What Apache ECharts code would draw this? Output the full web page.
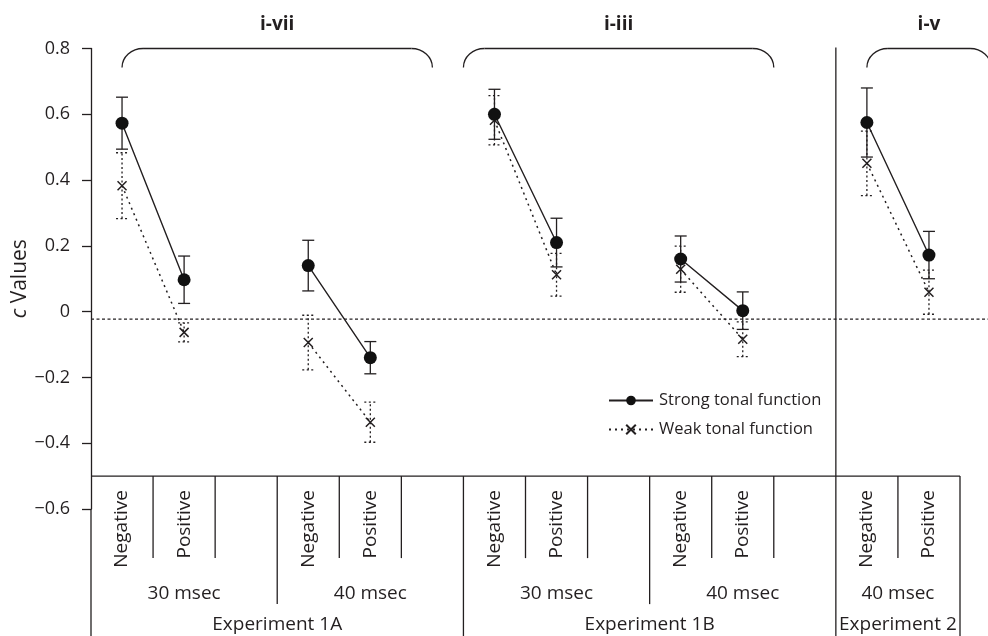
<!DOCTYPE html>
<html><head><meta charset="utf-8">
<script src="https://cdn.jsdelivr.net/npm/echarts@6/dist/echarts.min.js"></script>
<style>html,body{margin:0;padding:0;background:#fff}#c{width:988px;height:636px}</style>
</head><body><div id="c"></div>
<script>
// ---- data ----
const categories = ['Negative','Positive','','Negative','Positive','','Negative','Positive','','Negative','Positive','','Negative','Positive'];
const strongMean = [0.573, 0.097, null, 0.140, -0.140, null, 0.600, 0.210, null, 0.160, 0.003, null, 0.575, 0.172];
const strongErr  = [0.079, 0.072, null, 0.077,  0.049, null, 0.076, 0.074, null, 0.070, 0.057, null, 0.105, 0.072];
const weakMean   = [0.383, -0.063, null, -0.094, -0.336, null, 0.582, 0.112, null, 0.129, -0.084, null, 0.451, 0.059];
const weakErr    = [0.100, 0.029, null, 0.083, 0.061, null, 0.075, 0.065, null, 0.070, 0.053, null, 0.098, 0.067];
const seriesNames = ['Strong tonal function', 'Weak tonal function'];
const yMin = -0.6, yMax = 0.8, yInterval = 0.2;
const criterionValue = -0.023;
const baselineValue = -0.5;
const timeGroups = [
  {label:'30 msec', from:0, to:2}, {label:'40 msec', from:3, to:5},
  {label:'30 msec', from:6, to:8}, {label:'40 msec', from:9, to:11},
  {label:'40 msec', from:12, to:13}
];
const experimentGroups = [
  {label:'Experiment 1A', from:0, to:5},
  {label:'Experiment 1B', from:6, to:11},
  {label:'Experiment 2', from:12, to:13, dividerToTop:true}
];
const braces = [
  {label:'i-vii', from:0, to:5},
  {label:'i-iii', from:5.5, to:10.5},
  {label:'i-v', from:12, to:14}
];

// ---- chart ----
const INK = '#231f20';
const FONT = 'Open Sans';
const chart = echarts.init(document.getElementById('c'), null, {renderer:'canvas'});

function errBars(mean, err, dash, z) {
  const data = [];
  mean.forEach((m, i) => { if (m != null) data.push([i, m - err[i], m + err[i]]); });
  return {
    type:'custom', silent:true, z:z, data:data, encode:{x:0, y:[1,2]},
    renderItem:function(params, api){
      const x = api.value(0);
      const lo = api.coord([x, api.value(1)]);
      const hi = api.coord([x, api.value(2)]);
      const hw = 6;
      const st = {stroke:INK, lineWidth:1.3, lineDash:dash};
      return {type:'group', children:[
        {type:'line', shape:{x1:lo[0], y1:lo[1], x2:hi[0], y2:hi[1]}, style:st},
        {type:'line', shape:{x1:lo[0]-hw, y1:lo[1], x2:lo[0]+hw, y2:lo[1]}, style:st},
        {type:'line', shape:{x1:hi[0]-hw, y1:hi[1], x2:hi[0]+hw, y2:hi[1]}, style:st}
      ]};
    }
  };
}

const fmt = v => {
  const r = Math.round(v * 10) / 10;
  if (r === 0) return '0';
  return (r < 0 ? '\u2212' : '') + Math.abs(r).toFixed(1);
};

chart.setOption({
  animation:false,
  backgroundColor:'#fff',
  textStyle:{fontFamily:FONT, color:INK},
  grid:{left:91, right:28, top:48.5, bottom:127, containLabel:false, outerBoundsMode:'none'},
  legend:{
    data:seriesNames, orient:'vertical', left:603, top:387,
    itemWidth:44, itemHeight:12, itemGap:12,
    textStyle:{fontFamily:FONT, fontSize:16.5, color:INK, padding:[0,0,0,1]}
  },
  xAxis:{
    type:'category', data:categories, boundaryGap:true,
    axisLine:{show:false}, axisTick:{show:false}, axisLabel:{show:false}, splitLine:{show:false}
  },
  yAxis:{
    type:'value', min:yMin, max:yMax, interval:yInterval,
    name:'{it|c} Values', nameLocation:'middle', nameGap:60, nameRotate:90, nameMoveOverlap:false,
    nameTextStyle:{fontFamily:FONT, fontSize:21, color:INK, rich:{it:{fontStyle:'italic', fontFamily:FONT, fontSize:21, color:INK}}},
    axisLine:{show:true, lineStyle:{color:INK, width:1.3}},
    axisTick:{show:true, inside:false, length:9, lineStyle:{color:INK, width:1.3}},
    axisLabel:{formatter:fmt, fontFamily:FONT, fontSize:18, color:INK, margin:21},
    splitLine:{show:false}
  },
  series:[
    errBars(weakMean, weakErr, [2,2.5], 2),
    errBars(strongMean, strongErr, null, 4),
    {
      name:seriesNames[1], type:'line', data:weakMean, z:3,
      symbol:'path://M0,0L10,10M10,0L0,10', symbolSize:9, showSymbol:true,
      itemStyle:{color:'rgba(0,0,0,0)', borderColor:INK, borderWidth:1.5},
      lineStyle:{color:INK, width:1.5, type:[2,4]}, connectNulls:false
    },
    {
      name:seriesNames[0], type:'line', data:strongMean, z:5,
      symbol:'circle', symbolSize:13,
      itemStyle:{color:'#111', borderColor:'#111', borderWidth:0},
      lineStyle:{color:INK, width:1.4, type:'solid'}, connectNulls:false
    }
  ]
});

// ---- decorations computed from axes ----
function decorate(){
  const P = (c, v) => chart.convertToPixel({gridIndex:0}, [c, v]);
  const x0 = P(0, 0)[0];
  const band = P(1, 0)[0] - x0;
  const X = c => x0 + c * band;
  const Y = v => P(0, v)[1];
  const W = chart.getWidth(), H = chart.getHeight();
  const yBase = Y(baselineValue), yTop = Y(yMax), yBot = Y(yMin);
  const left = X(-0.5), right = X(categories.length - 0.5);
  const g = [];
  const ln = (x1,y1,x2,y2,style) => g.push({type:'line', silent:true, z:10,
    shape:{x1,y1,x2,y2}, style:style || {stroke:INK, lineWidth:1.3}});

  ln(left, yBot, left, H);
  ln(left, yBase, right, yBase);
  ln(left, Y(criterionValue), W, Y(criterionValue), {stroke:INK, lineWidth:1.2, lineDash:[3,2.5]});

  const expEdges = new Set(), timeEdges = new Set();
  experimentGroups.forEach(e => expEdges.add(e.to + 1));
  timeGroups.forEach(t => timeEdges.add(t.to + 1));
  for (let b = 1; b <= categories.length; b++) {
    const x = X(b - 0.5);
    if (expEdges.has(b)) {
      const toTop = experimentGroups.some(e => e.dividerToTop && e.from === b);
      ln(x, toTop ? yTop - 1 : yBase, x, H);
    } else if (timeEdges.has(b)) {
      ln(x, yBase, x, yBase + 128);
    } else {
      ln(x, yBase, x, yBase + 82);
    }
  }
  categories.forEach((c, i) => {
    if (!c) return;
    g.push({type:'text', silent:true, z:10, x:X(i), y:yBase + 14, rotation:Math.PI/2,
      style:{text:c, fontFamily:FONT, fontSize:19, fill:INK, align:'right', verticalAlign:'middle'}});
  });
  timeGroups.forEach(t => g.push({type:'text', silent:true, z:10, x:(X(t.from-0.5)+X(t.to+0.5))/2, y:yBase + 117,
    style:{text:t.label, fontFamily:FONT, fontSize:19, fill:INK, align:'center', verticalAlign:'middle'}}));
  experimentGroups.forEach(e => g.push({type:'text', silent:true, z:10, x:(X(e.from-0.5)+X(e.to+0.5))/2, y:yBase + 148,
    style:{text:e.label, fontFamily:FONT, fontSize:19, fill:INK, align:'center', verticalAlign:'middle'}}));

  braces.forEach(br => {
    const x1 = X(br.from), x2 = X(br.to), yt = yTop, yb = yTop + 19, r = 21, h = 19, k = 0.5523;
    const st = {stroke:INK, lineWidth:1.3, fill:null};
    g.push({type:'bezierCurve', silent:true, z:10,
      shape:{x1:x1, y1:yb, cpx1:x1, cpy1:yb - h*k, cpx2:x1 + r*(1-k), cpy2:yt, x2:x1 + r, y2:yt}, style:st});
    g.push({type:'line', silent:true, z:10, shape:{x1:x1 + r, y1:yt, x2:x2 - r, y2:yt}, style:st});
    g.push({type:'bezierCurve', silent:true, z:10,
      shape:{x1:x2 - r, y1:yt, cpx1:x2 - r*(1-k), cpy1:yt, cpx2:x2, cpy2:yb - h*k, x2:x2, y2:yb}, style:st});
    g.push({type:'text', silent:true, z:10, x:(x1 + x2)/2, y:yTop - 24,
      style:{text:br.label, fontFamily:FONT, fontSize:19, fontWeight:'bold', fill:INK, align:'center', verticalAlign:'middle'}});
  });
  chart.setOption({graphic:{elements:g}});
}
decorate();
</script>
</body></html>
